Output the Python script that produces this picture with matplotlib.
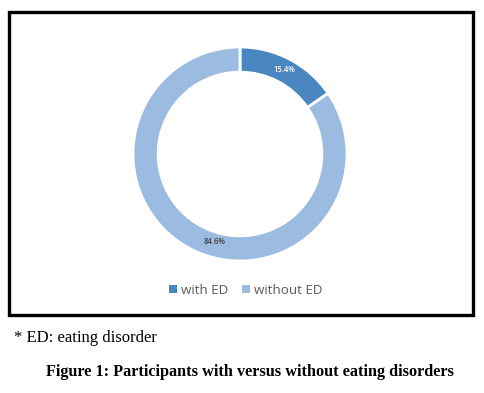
import matplotlib.pyplot as plt
from matplotlib.patches import Rectangle

labels = ['with ED', 'without ED']
values = [15.4, 84.6]
colors = ['#4A86BF', '#9BBBE0']

W, H = 485, 393
fig = plt.figure(figsize=(W / 100, H / 100), dpi=100)

# frame around chart
fig.patches.append(Rectangle((9 / W, 1 - 315 / H), 464 / W, 303 / H,
                             transform=fig.transFigure, fill=False,
                             edgecolor='black', linewidth=2.4))

# donut axes: center (240,154), radius 107 px
r = 107
ax = fig.add_axes([(240 - r) / W, 1 - (154 + r) / H, 2 * r / W, 2 * r / H])
wedges, _ = ax.pie(values, colors=colors, startangle=90, counterclock=False,
                   radius=1, wedgeprops=dict(width=0.235, edgecolor='white', linewidth=2))
ax.set_xlim(-1, 1)
ax.set_ylim(-1, 1)
ax.set_aspect('equal')
ax.axis('off')

ax.text((284 - 240) / r, (154 - 70) / r, f'{values[0]}%', color='white',
        fontsize=5.5, ha='center', va='center', family='Open Sans', fontweight='semibold')
ax.text((215 - 240) / r, (154 - 242) / r, f'{values[1]}%', color='#404040',
        fontsize=5.5, ha='center', va='center', family='Open Sans', fontweight='semibold')

leg = fig.legend(wedges, labels, loc='center', bbox_to_anchor=(246 / W, 1 - 290 / H),
                 ncol=2, frameon=False, handlelength=0.6, handleheight=0.6,
                 handletextpad=0.3, columnspacing=1.0,
                 prop={'family': 'Open Sans', 'size': 9.6})
for h in leg.legend_handles:
    h.set_edgecolor('none')
for t in leg.get_texts():
    t.set_color('#595959')

fig.text(14 / W, 1 - 338 / H, '* ED: eating disorder', family='Liberation Serif',
         fontsize=12, ha='left', va='center')
fig.text(250 / W, 1 - 372 / H, 'Figure 1: Participants with versus without eating disorders',
         family='Liberation Serif', fontsize=11.7, fontweight='bold', ha='center', va='center')

fig.savefig('out.png', dpi=100)
